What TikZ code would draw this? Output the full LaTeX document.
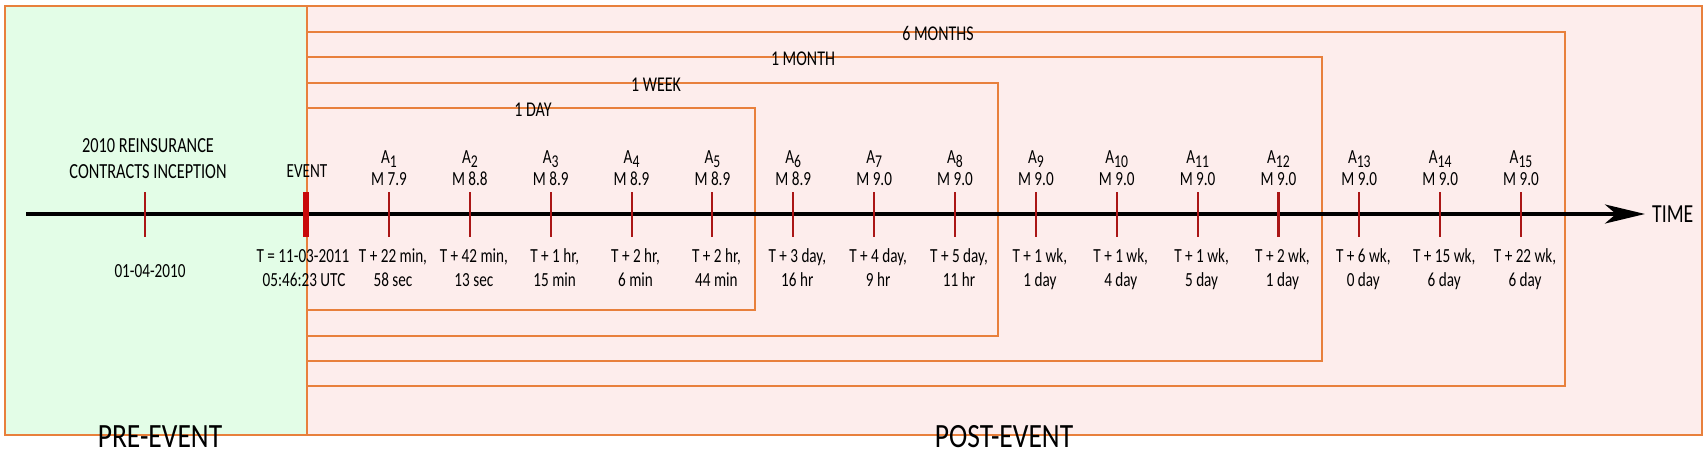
\documentclass[tikz,border=0pt]{standalone}
\usepackage{fontspec}
\setmainfont{Carlito}[FakeStretch=0.76]
\newfontfamily\bigfont{Carlito}[FakeStretch=0.81]
\usetikzlibrary{arrows.meta}
\definecolor{greenbg}{RGB}{227,253,231}
\definecolor{pinkbg}{RGB}{253,237,236}
\definecolor{orangeln}{RGB}{232,128,60}
\definecolor{tickred}{RGB}{170,22,22}
\definecolor{eventred}{RGB}{200,10,10}
\begin{document}
\begin{tikzpicture}[x=1pt,y=-1pt,
  txt/.style={font=\fontsize{20pt}{24pt}\selectfont, inner sep=0pt, anchor=base},
  bigtxt/.style={font=\bigfont\fontsize{34pt}{38pt}\selectfont, inner sep=0pt, anchor=base},
  periodline/.style={draw=orangeln, line width=1.6pt},
  ticksty/.style={draw=tickred, line width=2.1pt},
  axis/.style={line width=3.6pt, -{Stealth[length=40pt,width=19pt,inset=11pt]}}]
\useasboundingbox (0,0) rectangle (1708,455);
% backgrounds
\fill[greenbg] (5,6) rectangle (307,435);
\fill[pinkbg] (307,6) rectangle (1702,435);
\draw[periodline] (5,6) rectangle (1702,435);
\draw[periodline] (307,6) -- (307,435);
% period frames
\foreach \yt/\yb/\xr in {32/386/1565, 57/361/1322, 83/336/998, 108/310/755}
  \draw[periodline] (307,\yt) -- (\xr,\yt) -- (\xr,\yb) -- (307,\yb);
\node[txt, font=\fontsize{21pt}{24pt}\selectfont] (p6m) at (938,40.5) {6 MONTHS};
\node[txt, font=\fontsize{21pt}{24pt}\selectfont] (p1m) at (803,65.5) {1 MONTH};
\node[txt, font=\fontsize{21pt}{24pt}\selectfont] (p1w) at (656,91.5) {1 WEEK};
\node[txt, font=\fontsize{21pt}{24pt}\selectfont] (p1d) at (533,116.5) {1 DAY};
% timeline
\coordinate (tl0) at (26,214);
\coordinate (tl1) at (1645,214);
\draw[axis] (tl0) -- (tl1);
\node[txt, anchor=base west, font=\fontsize{26pt}{30pt}\selectfont] (time) at (1652,222) {TIME};
% inception
\draw[ticksty] (145,192) -- (145,237);
\node[txt, font=\fontsize{21.5pt}{24pt}\selectfont] (inc1) at (148,152) {2010 REINSURANCE};
\node[txt, font=\fontsize{21.5pt}{24pt}\selectfont] (inc2) at (148,178) {CONTRACTS INCEPTION};
\node[txt] (incd) at (150,277) {01-04-2010};
% event
\fill[eventred] (303,192) rectangle (309,237);
\node[txt] (ev) at (307,177) {EVENT};
\node[txt] (evt1) at (303,262) {T = 11-03-2011};
\node[txt] (evt2) at (304,286) {05:46:23 UTC};
% aftershocks
\foreach \i/\m/\la/\lb in {
  1/7.9/{T + 22 min,}/{58 sec},
  2/8.8/{T + 42 min,}/{13 sec},
  3/8.9/{T + 1 hr,}/{15 min},
  4/8.9/{T + 2 hr,}/{6 min},
  5/8.9/{T + 2 hr,}/{44 min},
  6/8.9/{T + 3 day,}/{16 hr},
  7/9.0/{T + 4 day,}/{9 hr},
  8/9.0/{T + 5 day,}/{11 hr},
  9/9.0/{T + 1 wk,}/{1 day},
  10/9.0/{T + 1 wk,}/{4 day},
  11/9.0/{T + 1 wk,}/{5 day},
  12/9.0/{T + 2 wk,}/{1 day},
  13/9.0/{T + 6 wk,}/{0 day},
  14/9.0/{T + 15 wk,}/{6 day},
  15/9.0/{T + 22 wk,}/{6 day}}{
  \pgfmathsetmacro{\xx}{389+(\i-1)*80.86}
  \draw[ticksty] (\xx,192) -- (\xx,237);
  \node[txt] (a\i) at (\xx,163) {A{\fontsize{18pt}{18pt}\selectfont\raisebox{-4pt}{\i}}};
  \node[txt] (m\i) at (\xx,185) {M \m};
  \node[txt] (t\i) at (\xx+4,262) {\la};
  \node[txt] (u\i) at (\xx+4,286) {\lb};
}
% region labels
\node[bigtxt] (pre) at (160,447) {PRE-EVENT};
\node[bigtxt] (post) at (1004,447) {POST-EVENT};
\end{tikzpicture}
\end{document}
